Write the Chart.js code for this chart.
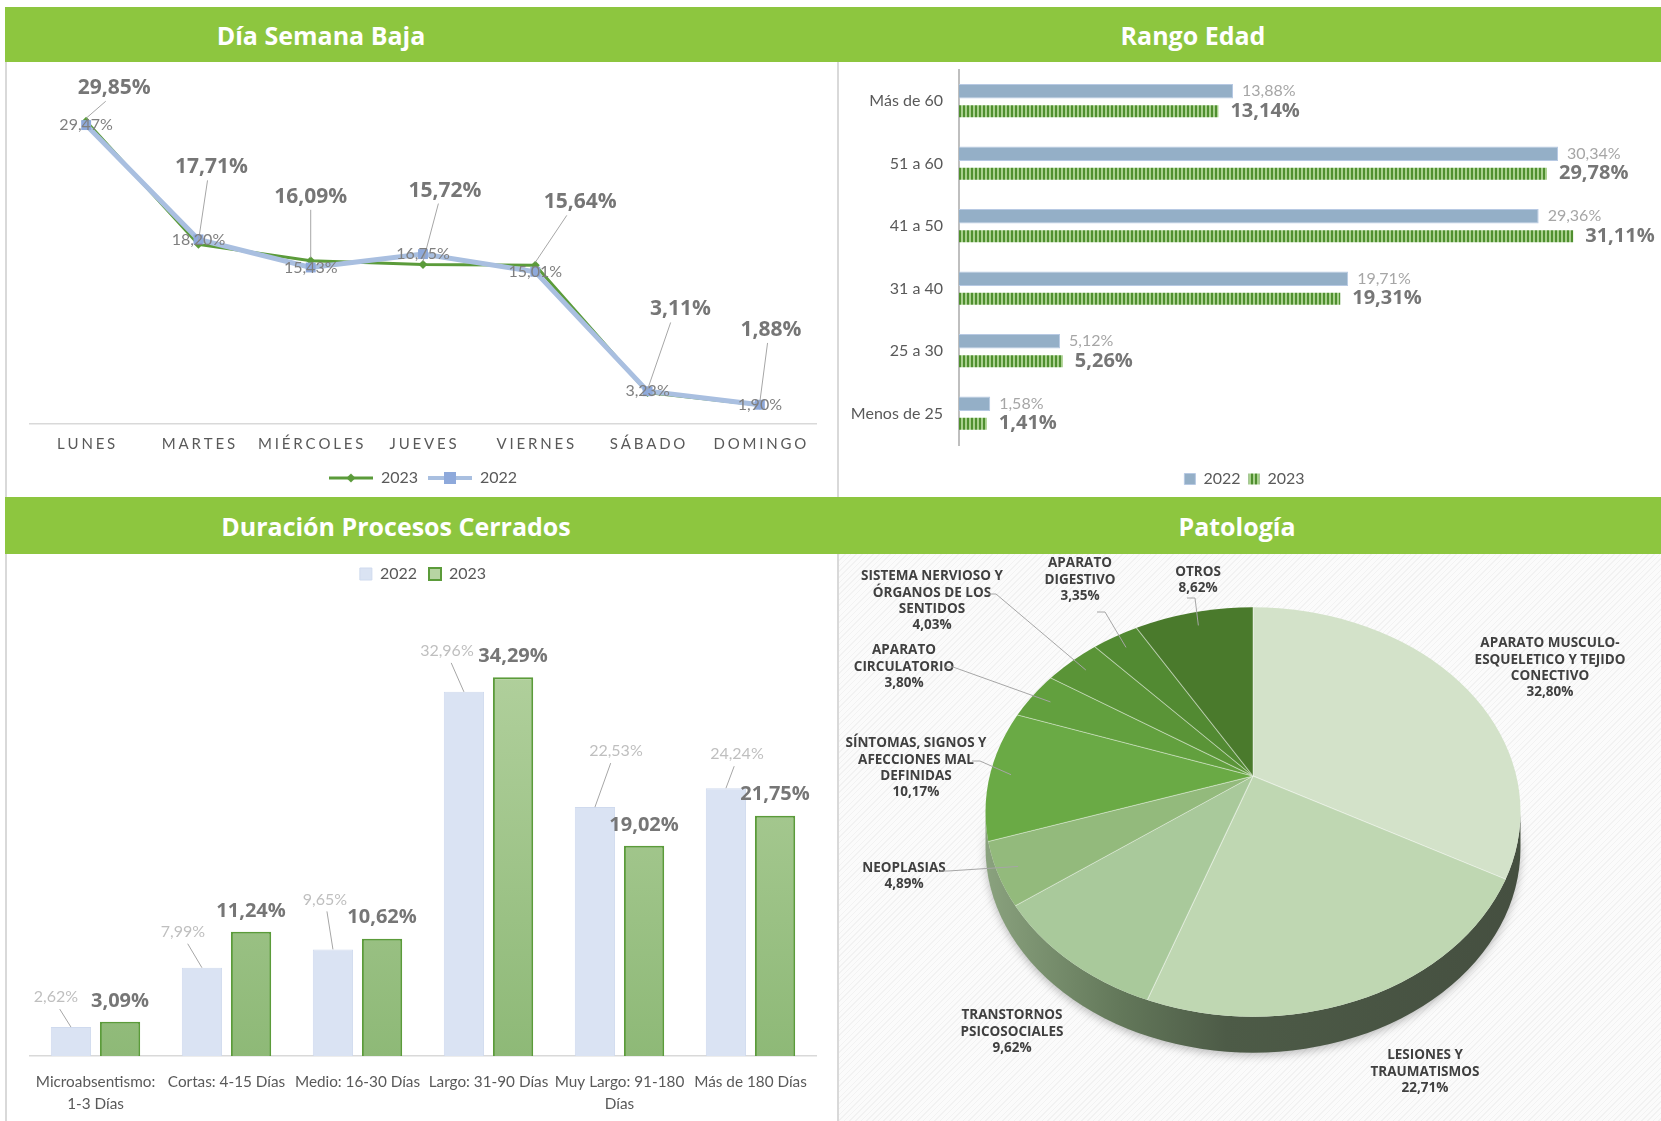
<!DOCTYPE html>
<html>
<head>
<meta charset="utf-8">
<script src="https://cdn.jsdelivr.net/npm/chart.js@4.4.1/dist/chart.umd.min.js"></script>
<style>
body { margin: 0; width: 1661px; height: 1121px; background: #fff; position: relative; overflow: hidden; font-family: Lato, sans-serif; }
.hdr { position: absolute; left: 5px; width: 1656px; background: #8dc63f; }
.ttl { position: absolute; color: #fff; font: bold 25px "Open Sans", sans-serif; transform: translate(-50%, -50%); white-space: nowrap; }
.vline { position: absolute; background: #d9d9d9; width: 2px; }
.box { position: absolute; }
#pieBg { position: absolute; left: 839px; top: 554px; width: 822px; height: 567px;
  background: repeating-linear-gradient(135deg, #f2f2f2 0px, #f2f2f2 1px, #fbfbfb 1px, #fbfbfb 4px); }
</style>
</head>
<body>
<div id="pieBg"></div>
<div class="hdr" style="top:7px;height:55px"></div>
<div class="hdr" style="top:497px;height:57px"></div>
<div class="ttl" style="left:321px;top:35px">Día Semana Baja</div>
<div class="ttl" style="left:1193px;top:35px">Rango Edad</div>
<div class="ttl" style="left:396px;top:526px">Duración Procesos Cerrados</div>
<div class="ttl" style="left:1237px;top:526px">Patología</div>
<div class="vline" style="left:5px;top:62px;height:435px"></div>
<div class="vline" style="left:5px;top:554px;height:567px"></div>
<div class="vline" style="left:837px;top:62px;height:435px"></div>
<div class="vline" style="left:837px;top:554px;height:567px"></div>

<div class="box" style="left:8px;top:62px;width:829px;height:434px"><canvas id="dayChart"></canvas></div>
<div class="box" style="left:839px;top:62px;width:822px;height:435px"><canvas id="ageChart"></canvas></div>
<div class="box" style="left:8px;top:554px;width:829px;height:567px"><canvas id="durChart"></canvas></div>
<div class="box" style="left:839px;top:554px;width:822px;height:567px"><canvas id="pieChart"></canvas></div>

<script>
"use strict";

// --- data ---
const days = ["LUNES", "MARTES", "MIÉRCOLES", "JUEVES", "VIERNES", "SÁBADO", "DOMINGO"];
const day2023 = [29.85, 17.71, 16.09, 15.72, 15.64, 3.11, 1.88];
const day2022 = [29.47, 18.20, 15.43, 16.75, 15.01, 3.23, 1.90];

const ages = ["Más de 60", "51 a 60", "41 a 50", "31 a 40", "25 a 30", "Menos de 25"];
const age2022 = [13.88, 30.34, 29.36, 19.71, 5.12, 1.58];
const age2023 = [13.14, 29.78, 31.11, 19.31, 5.26, 1.41];

const durations = [["Microabsentismo:", "1-3 Días"], "Cortas: 4-15 Días", "Medio: 16-30 Días",
                   "Largo: 31-90 Días", ["Muy Largo: 91-180", "Días"], "Más de 180 Días"];
const dur2022 = [2.62, 7.99, 9.65, 32.96, 22.53, 24.24];
const dur2023 = [3.09, 11.24, 10.62, 34.29, 19.02, 21.75];

const pathologies = [
    ["APARATO MUSCULO-", "ESQUELETICO Y TEJIDO", "CONECTIVO"],
    ["LESIONES Y", "TRAUMATISMOS"],
    ["TRANSTORNOS", "PSICOSOCIALES"],
    ["NEOPLASIAS"],
    ["SÍNTOMAS, SIGNOS Y", "AFECCIONES MAL", "DEFINIDAS"],
    ["APARATO", "CIRCULATORIO"],
    ["SISTEMA NERVIOSO Y", "ÓRGANOS DE LOS", "SENTIDOS"],
    ["APARATO", "DIGESTIVO"],
    ["OTROS"]
];
const pathShare = [32.80, 22.71, 9.62, 4.89, 10.17, 3.80, 4.03, 3.35, 8.62];
const pathColors = ["#d3e2c9", "#bfd7b2", "#a9c99b", "#93ba7c", "#6aaa45", "#62a03e", "#5a9437", "#528a32", "#4a7a2c"];

// --- label placement (layout only) ---
const dayShift = [[28, -33], [13, -77], [0, -64], [22, -74], [45, -63], [33, -83], [11, -75]];
const durShift = [[-15, -30], [-19, -36], [-8, -50], [-17, -41], [21, -56], [11, -34]];
const pieLabelPos = [
    [297, -144, null], [172, 260, null], [-241, 220, null], [-349, 64, [-305, 59]],
    [-337, -44, [-273, -51]], [-349, -145, [-300, -145]], [-321, -211, [-257, -218]],
    [-173, -232, [-148, -200]], [-55, -232, [-58, -214]]
];

const pct = v => v.toFixed(2).replace(".", ",") + "%";
const spaced = s => s.split("").join("\u2009\u200a");

Chart.defaults.font.family = "Lato";
Chart.defaults.color = "#595959";
Chart.defaults.animation = false;
Chart.defaults.events = [];

// legend icons for the line chart
function lineIcon(color, width, marker, size, fill) {
    var c = document.createElement("canvas");
    c.width = 44; c.height = 14;
    var x = c.getContext("2d");
    x.strokeStyle = color; x.lineWidth = width;
    x.beginPath(); x.moveTo(0, 7); x.lineTo(44, 7); x.stroke();
    x.fillStyle = fill;
    if (marker === "diamond") {
        x.beginPath(); x.moveTo(22, 7 - size); x.lineTo(22 + size, 7); x.lineTo(22, 7 + size); x.lineTo(22 - size, 7); x.fill();
    } else {
        x.fillRect(22 - size, 7 - size, size * 2, size * 2);
    }
    return c;
}
var dayIcons = [lineIcon("#a9bfe0", 4, "square", 6, "#8ea9db"), lineIcon("#5b9b3a", 3, "diamond", 4.5, "#5b9b3a")];

var dayLabels = {
    id: "dayLabels",
    afterDatasetsDraw(chart) {
        var ctx = chart.ctx;
        ctx.save();
        ctx.textAlign = "center";
        ctx.textBaseline = "middle";
        chart.getDatasetMeta(1).data.forEach(function (p, i) {
            var dx = dayShift[i][0], dy = dayShift[i][1];
            var lx = p.x + dx, ly = p.y + dy;
            ctx.strokeStyle = "#a6a6a6"; ctx.lineWidth = 1;
            ctx.beginPath(); ctx.moveTo(lx - dx * 0.3, ly + 13); ctx.lineTo(p.x, p.y - 3); ctx.stroke();
            ctx.font = "bold 21px 'Open Sans'"; ctx.fillStyle = "#767676";
            ctx.fillText(pct(day2023[i]), lx, ly);
        });
        chart.getDatasetMeta(0).data.forEach(function (p, i) {
            ctx.font = "16px Lato"; ctx.fillStyle = "#7f7f7f";
            ctx.fillText(pct(day2022[i]), p.x, p.y);
        });
        ctx.restore();
    }
};

new Chart(document.getElementById("dayChart"), {
    type: "line",
    data: {
        labels: days,
        datasets: [{
            label: "2022", data: day2022, borderColor: "#a9bfe0", borderWidth: 5,
            pointStyle: "rect", pointRadius: 7, pointBackgroundColor: "#8ea9db", pointBorderWidth: 0
        }, {
            label: "2023", data: day2023, borderColor: "#5b9b3a", borderWidth: 3,
            pointStyle: "rectRot", pointRadius: 4.5, pointBackgroundColor: "#5b9b3a", pointBorderWidth: 0
        }]
    },
    options: {
        responsive: true,
        maintainAspectRatio: false,
        layout: { padding: { top: 7, left: 22, right: 21, bottom: 0 } },
        scales: {
            x: {
                offset: true,
                grid: { display: false },
                border: { color: "#d9d9d9", width: 1.5 },
                ticks: { font: { size: 15 }, color: "#595959", padding: 3, maxRotation: 0,
                         callback: function (v, i) { return spaced(days[i]); } },
                afterFit: function (axis) { axis.height = 36; }
            },
            y: { display: false, min: 0, max: 35 }
        },
        plugins: {
            legend: {
                position: "bottom",
                labels: {
                    usePointStyle: true, pointStyleWidth: 44, font: { size: 16 }, color: "#595959", padding: 10,
                    generateLabels: function (chart) {
                        var items = Chart.defaults.plugins.legend.labels.generateLabels(chart);
                        items.forEach(function (it) { it.pointStyle = dayIcons[it.datasetIndex]; });
                        return items;
                    },
                    sort: function (a, b) { return b.datasetIndex - a.datasetIndex; }
                }
            },
            tooltip: { enabled: false }
        }
    },
    plugins: [dayLabels]
});

// ---- Rango Edad ----
function stripes(ctx) {
    var c = document.createElement("canvas");
    c.width = 4; c.height = 4;
    var x = c.getContext("2d");
    x.fillStyle = "#a9d08e"; x.fillRect(0, 0, 4, 4);
    x.fillStyle = "#4f8f2f"; x.fillRect(0, 0, 2, 4);
    return ctx.createPattern(c, "repeat");
}
var ageCanvas = document.getElementById("ageChart");

var ageLabels = {
    id: "ageLabels",
    afterDatasetsDraw(chart) {
        var ctx = chart.ctx;
        ctx.save();
        ctx.textAlign = "left";
        ctx.textBaseline = "middle";
        chart.getDatasetMeta(0).data.forEach(function (b, i) {
            ctx.font = "16px Lato"; ctx.fillStyle = "#a6a6a6";
            ctx.fillText(pct(age2022[i]), b.x + 9, b.y);
        });
        chart.getDatasetMeta(1).data.forEach(function (b, i) {
            ctx.font = "bold 20px 'Open Sans'"; ctx.fillStyle = "#767676";
            ctx.fillText(pct(age2023[i]), b.x + 12, b.y);
        });
        ctx.restore();
    }
};

new Chart(ageCanvas, {
    type: "bar",
    data: {
        labels: ages,
        datasets: [{
            label: "2022", data: age2022, backgroundColor: "#94afc7", borderColor: "#b7c9e3", borderWidth: 1,
            barPercentage: 0.72, categoryPercentage: 0.64
        }, {
            label: "2023", data: age2023, backgroundColor: stripes(ageCanvas.getContext("2d")), borderWidth: 0,
            barPercentage: 0.6, categoryPercentage: 0.64
        }]
    },
    options: {
        indexAxis: "y",
        responsive: true,
        maintainAspectRatio: false,
        layout: { padding: { top: 8, right: 11, left: 0, bottom: 0 } },
        scales: {
            y: {
                grid: { display: false },
                border: { color: "#bfbfbf", width: 2 },
                ticks: { font: { size: 16 }, color: "#595959", padding: 8 },
                afterFit: function (axis) { axis.width = 120; axis.paddingTop = 0; axis.paddingBottom = 0; }
            },
            x: {
                min: 0, max: 35,
                grid: { display: false },
                border: { display: false },
                ticks: { display: false },
                afterFit: function (axis) { axis.height = 18; }
            }
        },
        plugins: {
            legend: {
                position: "bottom",
                labels: { boxWidth: 11, boxHeight: 11, font: { size: 16 }, color: "#595959", padding: 8 }
            },
            tooltip: { enabled: false }
        }
    },
    plugins: [ageLabels]
});

// ---- Duración Procesos Cerrados ----
var durLabels = {
    id: "durLabels",
    afterDatasetsDraw(chart) {
        var ctx = chart.ctx;
        ctx.save();
        ctx.textAlign = "center";
        ctx.textBaseline = "middle";
        chart.getDatasetMeta(0).data.forEach(function (b, i) {
            var dx = durShift[i][0], dy = durShift[i][1];
            var lx = b.x + dx, ly = b.y + dy;
            ctx.strokeStyle = "#a6a6a6"; ctx.lineWidth = 1;
            ctx.beginPath(); ctx.moveTo(lx - dx * 0.25, ly + 12); ctx.lineTo(b.x, b.y); ctx.stroke();
            ctx.font = "16px Lato"; ctx.fillStyle = "#bfbfbf";
            ctx.fillText(pct(dur2022[i]), lx, ly);
        });
        chart.getDatasetMeta(1).data.forEach(function (b, i) {
            ctx.font = "bold 20px 'Open Sans'"; ctx.fillStyle = "#767676";
            ctx.fillText(pct(dur2023[i]), b.x, b.y - 21);
        });
        ctx.restore();
    }
};

new Chart(document.getElementById("durChart"), {
    type: "bar",
    data: {
        labels: durations,
        datasets: [{
            label: "2022", data: dur2022, backgroundColor: "#dae3f3", borderColor: "#cfdaee", borderWidth: 1,
            barPercentage: 0.82, categoryPercentage: 0.75
        }, {
            label: "2023", data: dur2023, borderColor: "#5b9b3a", borderWidth: 2,
            barPercentage: 0.82, categoryPercentage: 0.75,
            backgroundColor: function (c) {
                var area = c.chart.chartArea;
                if (!area) return "#a3c78d";
                var g = c.chart.ctx.createLinearGradient(0, area.top, 0, area.bottom);
                g.addColorStop(0, "#b7d4a3");
                g.addColorStop(1, "#8eb977");
                return g;
            }
        }]
    },
    options: {
        responsive: true,
        maintainAspectRatio: false,
        layout: { padding: { top: 0, left: 22, right: 21, bottom: 9 } },
        scales: {
            x: {
                grid: { display: false },
                border: { color: "#d9d9d9", width: 1.5 },
                ticks: { font: { size: 15.3, lineHeight: 1.45 }, color: "#595959", padding: 7, maxRotation: 0, autoSkip: false },
                afterFit: function (axis) { axis.height = 56; }
            },
            y: { display: false, min: 0, max: 42 }
        },
        plugins: {
            legend: {
                position: "top",
                labels: { boxWidth: 12, boxHeight: 12, font: { size: 16 }, color: "#595959", padding: 12 }
            },
            tooltip: { enabled: false }
        }
    },
    plugins: [durLabels]
});

// ---- Patología (tilted pie, apex raised for perspective) ----
const tilt = 0.765, depth = 36, faceCenterY = 258, apexY = 222, stretch = 1.2;

function rayToRim(cx, rx, ry, ang) {
    // distance along the projected ray from the apex to the elliptic rim
    var dx = Math.cos(ang), dy = Math.sin(ang) * tilt, t = 0;
    while (t < 600) {
        var u = (t * dx) / rx, v = (apexY + t * dy - faceCenterY) / ry;
        if (u * u + v * v > 1) break;
        t += 1;
    }
    return { dx: dx, dy: dy, t: t };
}

var pieTilt = {
    id: "pieTilt",
    beforeDatasetsDraw(chart) {
        var ctx = chart.ctx;
        var arc = chart.getDatasetMeta(0).data[0];
        var cx = arc.x, rx = arc.outerRadius, ry = rx * tilt;
        var ty = faceCenterY;
        // side of the disc
        ctx.save();
        var g = ctx.createLinearGradient(cx - rx, 0, cx + rx, 0);
        g.addColorStop(0, "#8aa27e");
        g.addColorStop(0.25, "#63785a");
        g.addColorStop(0.45, "#4d5b47");
        g.addColorStop(1, "#454f40");
        ctx.fillStyle = g;
        ctx.shadowColor = "rgba(0,0,0,0.25)";
        ctx.shadowBlur = 8;
        ctx.shadowOffsetY = 3;
        ctx.beginPath();
        ctx.ellipse(cx, ty + depth, rx, ry, 0, 0, Math.PI);
        ctx.lineTo(cx - rx, ty);
        ctx.ellipse(cx, ty, rx, ry, 0, Math.PI, 0, true);
        ctx.closePath();
        ctx.fill();
        ctx.restore();
        // top face: clip to the rim, squash around a raised apex
        ctx.save();
        ctx.beginPath();
        ctx.ellipse(cx, ty, rx, ry, 0, 0, Math.PI * 2);
        ctx.clip();
        ctx.translate(cx, apexY);
        ctx.scale(stretch, stretch * tilt);
        ctx.translate(-cx, -arc.y);
    },
    afterDatasetsDraw(chart) {
        chart.ctx.restore();
    },
    afterDraw(chart) {
        var ctx = chart.ctx;
        var meta = chart.getDatasetMeta(0);
        var cx = meta.data[0].x, rx = meta.data[0].outerRadius, ry = rx * tilt;
        var cy = faceCenterY;
        ctx.save();
        ctx.textAlign = "center";
        ctx.textBaseline = "middle";
        ctx.font = "bold 13.5px 'Open Sans'";
        ctx.fillStyle = "#404040";
        meta.data.forEach(function (a, i) {
            var pos = pieLabelPos[i];
            var lines = pathologies[i].concat([pct(pathShare[i])]);
            var lx = cx + pos[0], ly = cy + pos[1] - (lines.length - 1) * 8.2;
            lines.forEach(function (t, k) { ctx.fillText(t, lx, ly + k * 16.4); });
            if (pos[2]) {
                var mid = (a.startAngle + a.endAngle) / 2;
                var r = rayToRim(cx, rx, ry, mid);
                var ex = cx + r.dx * r.t * 0.92;
                var ey = apexY + r.dy * r.t * 0.92;
                var sx = cx + pos[2][0], sy = cy + pos[2][1];
                ctx.strokeStyle = "#a6a6a6"; ctx.lineWidth = 1;
                ctx.beginPath(); ctx.moveTo(sx - 8, sy); ctx.lineTo(sx, sy); ctx.lineTo(ex, ey); ctx.stroke();
            }
        });
        ctx.restore();
    }
};

new Chart(document.getElementById("pieChart"), {
    type: "pie",
    data: {
        labels: pathologies,
        datasets: [{
            data: pathShare,
            backgroundColor: pathColors,
            borderColor: "rgba(255,255,255,0.35)",
            borderWidth: 1
        }]
    },
    options: {
        responsive: true,
        maintainAspectRatio: false,
        layout: { padding: { left: 146, right: 140, top: 15, bottom: 16 } },
        plugins: { legend: { display: false }, tooltip: { enabled: false } }
    },
    plugins: [pieTilt]
});
</script>
</body>
</html>
